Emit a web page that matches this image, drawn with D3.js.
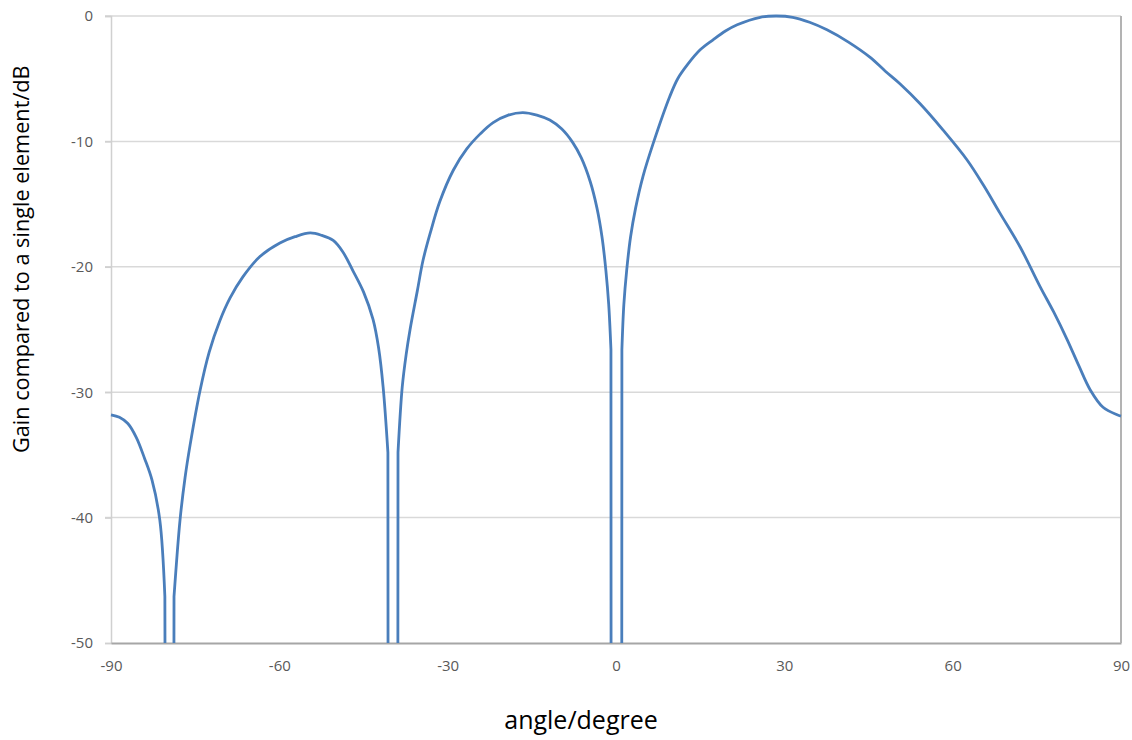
<!DOCTYPE html>
<html>
<head>
<meta charset="utf-8">
<script src="https://cdn.jsdelivr.net/npm/d3@7"></script>
<style>
  body { margin: 0; background: #fff; }
  text { font-family: "Open Sans", "Noto Sans", sans-serif; }
</style>
</head>
<body>
<div id="chart"></div>
<script>
// gain pattern, null entries mark where the curve drops below the axis floor
// (repeated points give the sharp corner where the line turns straight down)
var angles = [-90, -88.5, -87, -85.5, -84, -82.7, -81.3, -80.4, -80.4, -80.38, null,
  -78.78, -78.77, -78.77, -77.7, -76.8, -75.9, -74.1, -72.5, -70.6, -68.8, -66.5, -63.5, -59.9,
  -57.2, -54.5, -52.4, -50.4, -48.7, -46.9, -45.0, -43.3, -42.3, -41.5, -40.65, -40.65, -40.63, null,
  -38.87, -38.85, -38.85, -38.1, -37.4, -36.7, -35.4, -34.4, -33.1, -31.4, -29.0, -26.6, -24.2,
  -21.9, -19.2, -16.6, -14.1, -11.8, -9.7, -7.7, -6.2, -4.6, -3.4, -2.5, -1.8, -1.3, -0.9, -0.9, -0.88, null,
  1.03, 1.05, 1.05, 1.4, 1.9, 2.6, 3.5, 4.8, 6.6, 9.6, 11.0, 12.7, 15.0, 17.3, 19.5, 21.6, 25.7, 28.5,
  31.5, 34.5, 37.6, 41.5, 45.3, 48.0, 50.6, 54.2, 58.3, 62.6, 65.5, 68.4, 72.0, 75.6,
  78.0, 80.4, 82.5, 84.5, 86.8, 89.3, 90];
var gains = [-31.8, -32.0, -32.5, -33.6, -35.3, -37.0, -40.2, -46.3, -46.3, -50, null,
  -50, -46.3, -46.3, -40.2, -36.8, -34.2, -29.8, -26.8, -24.3, -22.5, -20.8, -19.2, -18.1,
  -17.6, -17.3, -17.5, -17.9, -18.8, -20.3, -22.0, -24.2, -26.5, -29.6, -34.8, -34.8, -50, null,
  -50, -34.8, -34.8, -29.6, -27.0, -25.0, -21.9, -19.5, -17.3, -14.8, -12.3, -10.6, -9.4,
  -8.5, -7.9, -7.7, -7.9, -8.3, -9.0, -10.1, -11.3, -13.2, -15.3, -17.6, -20.3, -23.0, -26.6, -26.6, -50, null,
  -50, -26.6, -26.6, -23.0, -20.3, -17.6, -15.3, -12.8, -10.2, -6.4, -5.0, -3.9, -2.7, -1.9, -1.2, -0.7, -0.1, 0.0,
  -0.1, -0.5, -1.1, -2.1, -3.3, -4.4, -5.4, -7.0, -9.1, -11.5, -13.5, -15.7, -18.4, -21.6,
  -23.6, -25.8, -27.9, -29.8, -31.2, -31.8, -31.9];

var xTicks = [-90, -60, -30, 0, 30, 60, 90];
var yTicks = [0, -10, -20, -30, -40, -50];

var svgWidth = 1132;
var svgHeight = 740;

var margin = { top: 16, right: 11, bottom: 97, left: 111 };
var width = svgWidth - margin.left - margin.right;
var height = svgHeight - margin.top - margin.bottom;

var svg = d3.select("#chart")
    .append("svg")
    .attr("width", svgWidth)
    .attr("height", svgHeight);

var chartGroup = svg.append("g")
    .attr("transform", `translate(${margin.left}, ${margin.top})`);

var points = angles.map(function (a, i) {
    return a == null ? null : { angle: a, gain: gains[i] };
});

var xScale = d3.scaleLinear().domain([-90, 90]).range([0, width]);
var yScale = d3.scaleLinear().domain([-50, 0]).range([height, 0]);

// gridlines
chartGroup.append("g")
    .selectAll("line")
    .data(yTicks.filter(d => d != -50))
    .enter()
    .append("line")
    .attr("x1", -6)
    .attr("x2", width)
    .attr("y1", d => yScale(d))
    .attr("y2", d => yScale(d))
    .attr("stroke", "#d9d9d9")
    .attr("stroke-width", 1.5);

// left axis
var leftAxis = d3.axisLeft(yScale)
    .tickValues(yTicks)
    .tickFormat(d => String(d))
    .tickSize(6)
    .tickPadding(12);
var yAxisG = chartGroup.append("g").call(leftAxis);
yAxisG.select(".domain").attr("stroke", "#d0d0d0").attr("stroke-width", 1.5);
yAxisG.selectAll(".tick line").attr("stroke", "#d0d0d0").attr("stroke-width", 1.5);
yAxisG.selectAll(".tick text")
    .attr("fill", "#595959")
    .style("font-size", "15px");

// bottom axis
var bottomAxis = d3.axisBottom(xScale)
    .tickValues(xTicks)
    .tickFormat(d => String(d))
    .tickSize(0)
    .tickPadding(17);
var xAxisG = chartGroup.append("g")
    .attr("transform", `translate(0, ${height})`)
    .call(bottomAxis);
xAxisG.select(".domain").attr("stroke", "#a6a6a6").attr("stroke-width", 2);
xAxisG.selectAll(".tick text")
    .attr("fill", "#595959")
    .style("font-size", "15px");

// right border
chartGroup.append("line")
    .attr("x1", width)
    .attr("x2", width)
    .attr("y1", 0)
    .attr("y2", height)
    .attr("stroke", "#b3b3b3")
    .attr("stroke-width", 2);

var line = d3.line()
    .defined(d => d != null)
    .x(d => xScale(d.angle))
    .y(d => yScale(d.gain))
    .curve(d3.curveCatmullRom.alpha(0.5));

chartGroup.append("path")
    .datum(points)
    .attr("d", line)
    .attr("fill", "none")
    .attr("stroke", "#4a7ebb")
    .attr("stroke-width", 2.8)
    .attr("stroke-linejoin", "round");

// axis titles
svg.append("text")
    .attr("x", 581)
    .attr("y", 729)
    .attr("text-anchor", "middle")
    .style("font-size", "25px")
    .attr("fill", "#000")
    .text("angle/degree");

svg.append("text")
    .attr("transform", "translate(29, 453) rotate(-90)")
    .attr("text-anchor", "start")
    .style("font-size", "21.7px")
    .attr("fill", "#000")
    .text("Gain compared to a single element/dB");
</script>
</body>
</html>
